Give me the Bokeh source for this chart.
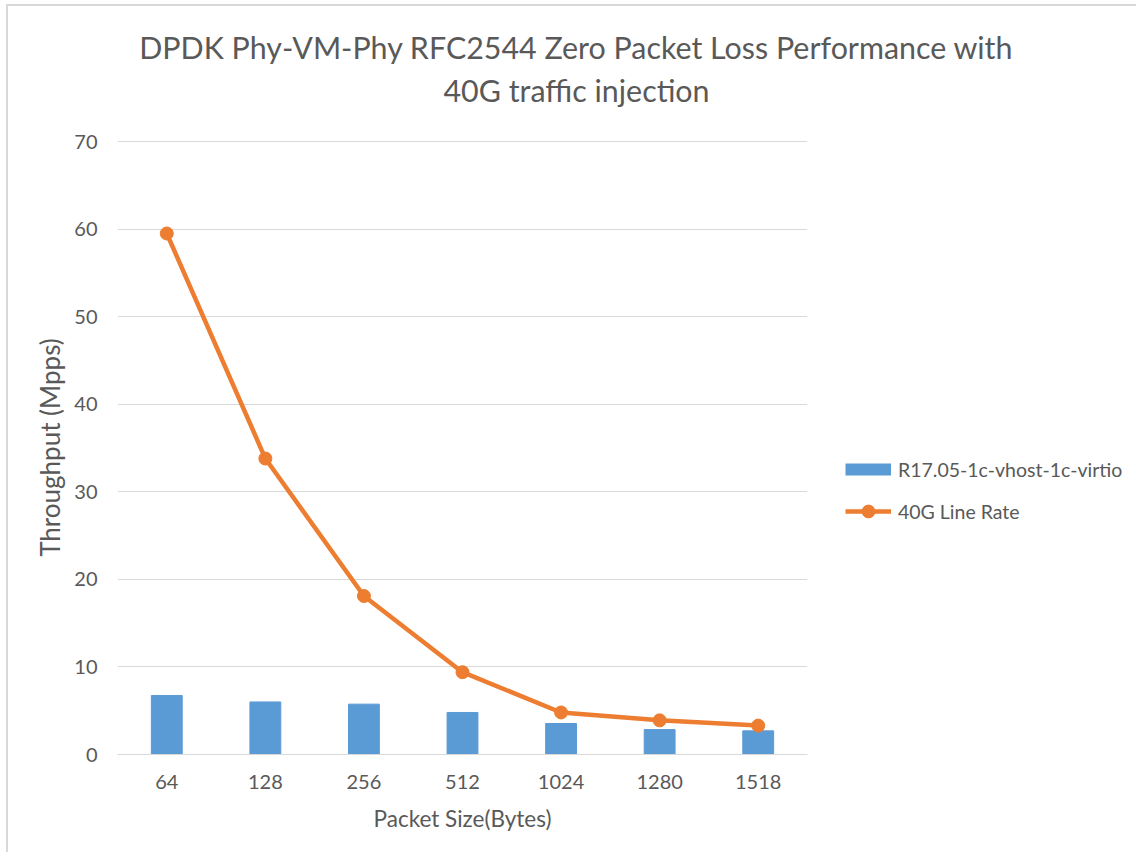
from bokeh.plotting import figure
from bokeh.models import Range1d, FactorRange, Legend, LegendItem, Label, FixedTicker
from bokeh.embed import file_html
from bokeh.resources import INLINE

# ---- data ----
packet_sizes = ["64", "128", "256", "512", "1024", "1280", "1518"]
r1705_mpps = [6.74, 6.0, 5.75, 4.8, 3.54, 2.85, 2.7]
line_rate_mpps = [59.5, 33.8, 18.1, 9.4, 4.8, 3.9, 3.3]
y_ticks = [0, 10, 20, 30, 40, 50, 60, 70]
series_names = ["R17.05-1c-vhost-1c-virtio", "40G Line Rate"]
title_lines = ["DPDK Phy-VM-Phy RFC2544 Zero Packet Loss Performance with",
               "40G traffic injection"]
x_title = "Packet Size(Bytes)"
y_title = "Throughput (Mpps)"

FONT = "Lato"
TXT = "#595959"
GRID = "#d9d9d9"
BLUE = "#5B9BD5"
ORANGE = "#ED7D31"

p = figure(x_range=FactorRange(*packet_sizes), y_range=Range1d(0, 70.12),
           frame_width=690, frame_height=614,
           min_border_left=109, min_border_top=134,
           min_border_right=317, min_border_bottom=98,
           output_backend="svg", toolbar_location=None,
           background_fill_color="white", border_fill_color="white")
p.styles = {"border-top": "2px solid #d9d9d9", "border-left": "2px solid #d9d9d9",
            "margin-left": "6px", "margin-top": "4px"}
p.outline_line_color = None

bars = p.vbar(x=packet_sizes, top=r1705_mpps, width=0.313,
              fill_color=BLUE, line_color=BLUE)
ln = p.line(x=packet_sizes, y=line_rate_mpps, line_width=4.5, line_color=ORANGE)
pts = p.scatter(x=packet_sizes, y=line_rate_mpps, size=13,
                fill_color=ORANGE, line_color=ORANGE)
# flat legend swatch for the bar series (hidden renderer, same data as the bars)
bar_key = p.line(x=packet_sizes, y=r1705_mpps, line_color=BLUE, line_width=12,
                 line_cap="butt", visible=False)

# axes
p.xaxis.axis_line_color = GRID
p.xaxis.major_tick_line_color = None
p.xaxis.minor_tick_line_color = None
p.xaxis.major_label_text_font = FONT
p.xaxis.major_label_text_font_size = "20px"
p.xaxis.major_label_text_color = TXT
p.xaxis.major_label_standoff = 14
p.xaxis.axis_label = x_title
p.xaxis.axis_label_text_font = FONT
p.xaxis.axis_label_text_font_size = "22.5px"
p.xaxis.axis_label_text_font_style = "normal"
p.xaxis.axis_label_text_color = TXT
p.xaxis.axis_label_standoff = 13

p.yaxis.ticker = FixedTicker(ticks=y_ticks)
p.yaxis.axis_line_color = None
p.yaxis.major_tick_line_color = None
p.yaxis.minor_tick_line_color = None
p.yaxis.major_label_text_font = FONT
p.yaxis.major_label_text_font_size = "20px"
p.yaxis.major_label_text_color = TXT
p.yaxis.major_label_standoff = 14
p.yaxis.axis_label = y_title
p.yaxis.axis_label_text_font = FONT
p.yaxis.axis_label_text_font_size = "26px"
p.yaxis.axis_label_text_font_style = "normal"
p.yaxis.axis_label_text_color = TXT
p.yaxis.axis_label_standoff = 5

p.xgrid.grid_line_color = None
p.ygrid.ticker = FixedTicker(ticks=y_ticks)
p.ygrid.grid_line_color = GRID
p.ygrid.grid_line_width = 1

# title (two centered lines) in the top panels
for txt, yy in zip(title_lines, [94, 15]):
    p.add_layout(Label(x=459, y=yy, x_units="screen", y_units="screen", text=txt,
                       text_align="center", text_baseline="middle",
                       text_font=FONT, text_font_size="30.4px", text_color=TXT), "above")

# legend in the right panel
leg = Legend(items=[LegendItem(label=series_names[0], renderers=[bar_key]),
                    LegendItem(label=series_names[1], renderers=[ln, pts])],
             location=(38, 227), glyph_width=46, glyph_height=32,
             label_standoff=7, padding=0, margin=0, spacing=10,
             border_line_color=None, background_fill_alpha=0,
             label_text_font=FONT, label_text_font_size="19.5px",
             label_text_color=TXT)
p.add_layout(leg, "right")

open("out.html", "w").write(file_html(p, INLINE))
